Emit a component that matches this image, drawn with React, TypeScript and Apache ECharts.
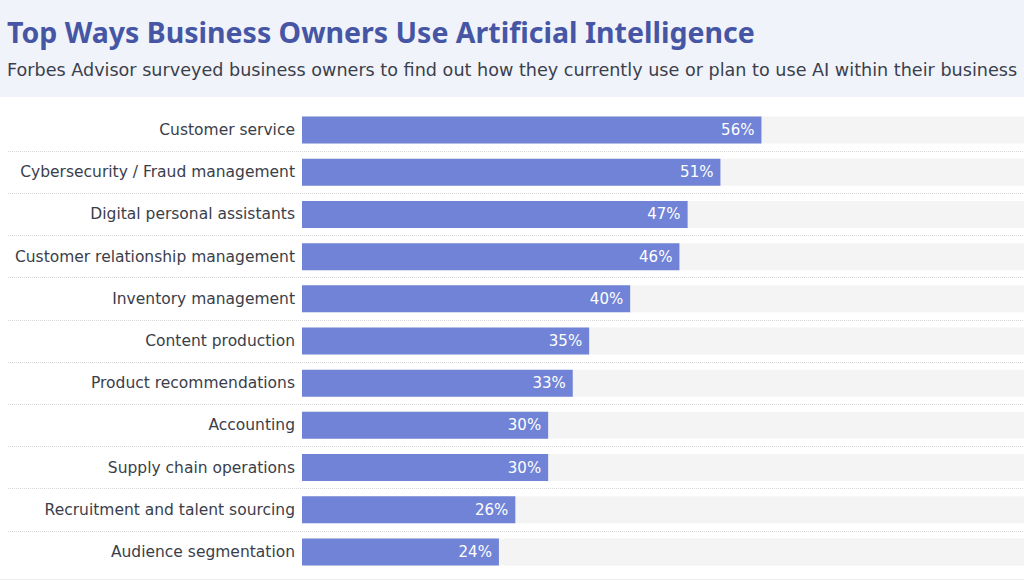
import React, { useEffect, useRef } from "react";
import * as echarts from "echarts";

const categories = [
  "Customer service",
  "Cybersecurity / Fraud management",
  "Digital personal assistants",
  "Customer relationship management",
  "Inventory management",
  "Content production",
  "Product recommendations",
  "Accounting",
  "Supply chain operations",
  "Recruitment and talent sourcing",
  "Audience segmentation",
];
const values = [56, 51, 47, 46, 40, 35, 33, 30, 30, 26, 24];

const TITLE = "Top Ways Business Owners Use Artificial Intelligence";
const SUBTITLE =
  "Forbes Advisor surveyed business owners to find out how they currently use or plan to use AI within their business";

const FONT = "'Noto Sans', sans-serif";
const BODY_FONT = "'DejaVu Sans', sans-serif";

const GRID_TOP = 109;
const GRID_BOTTOM = 8;
const ROW = (581 - GRID_TOP - GRID_BOTTOM) / categories.length;

export default function App() {
  const ref = useRef<HTMLDivElement>(null);
  useEffect(() => {
    document.body.style.margin = "0";
    const chart = echarts.init(ref.current!, null, { renderer: "svg" });
    chart.setOption({
      animation: false,
      backgroundColor: "#ffffff",
      graphic: [
        {
          type: "rect",
          left: 0,
          top: 0,
          shape: { width: 1024, height: 97 },
          style: { fill: "#f0f3f9" },
          z: -10,
        },
        {
          type: "line",
          shape: { x1: 0, y1: 579.5, x2: 1024, y2: 579.5 },
          style: { stroke: "#eeeeee", lineWidth: 1 },
        },
      ],
      title: [
        {
          text: TITLE,
          left: 7,
          top: 17,
          padding: 0,
          textStyle: {
            fontFamily: FONT,
            fontSize: 28.5,
            fontWeight: "bold",
            color: "#4656a5",
          },
        },
        {
          text: SUBTITLE,
          left: 7,
          top: 61,
          padding: 0,
          textStyle: {
            fontFamily: BODY_FONT,
            fontSize: 17.6,
            fontWeight: "normal",
            color: "#3b3f4c",
          },
        },
      ],
      grid: [
        { left: 302, right: 0, top: GRID_TOP, bottom: GRID_BOTTOM, containLabel: false },
        {
          left: 8,
          right: 0,
          top: GRID_TOP + ROW,
          bottom: GRID_BOTTOM + ROW,
          containLabel: false,
        },
      ],
      xAxis: [
        { type: "value", min: 0, max: 88, show: false, gridIndex: 0 },
        { type: "value", min: 0, max: 88, show: false, gridIndex: 1 },
      ],
      yAxis: [
        {
          type: "category",
          data: categories,
          inverse: true,
          gridIndex: 0,
          axisLine: { show: false },
          axisTick: { show: false },
          axisLabel: {
            fontFamily: BODY_FONT,
            fontSize: 15.5,
            color: "#3a3e4a",
            margin: 7,
          },
          splitLine: { show: false },
        },
        {
          type: "value",
          gridIndex: 1,
          min: 1,
          max: categories.length - 1,
          interval: 1,
          inverse: true,
          axisLine: { show: false },
          axisTick: { show: false },
          axisLabel: { show: false },
          splitLine: {
            show: true,
            lineStyle: { type: [1, 1], color: "#d8d8d8", width: 1 },
          },
        },
      ],
      series: [
        {
          type: "bar",
          xAxisIndex: 0,
          yAxisIndex: 0,
          data: values,
          barWidth: 27,
          itemStyle: { color: "#7083d6" },
          showBackground: true,
          backgroundStyle: { color: "#f4f4f4" },
          label: {
            show: true,
            position: "insideRight",
            distance: 7,
            formatter: "{c}%",
            fontFamily: BODY_FONT,
            fontSize: 15,
            color: "#ffffff",
          },
        },
      ],
    });
    return () => chart.dispose();
  }, []);
  return <div ref={ref} style={{ width: 1024, height: 581 }} />;
}
